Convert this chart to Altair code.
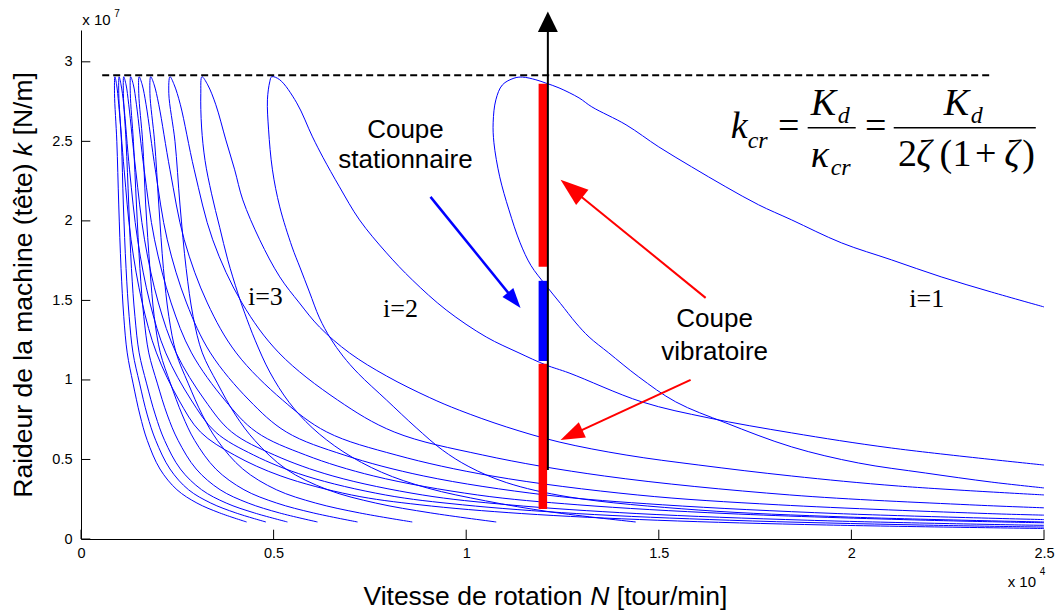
import altair as alt
import pandas as pd

# ---------------- data (x in 1e4 tour/min, y in 1e7 N/m) ----------------
x_ticks = [0, 0.5, 1, 1.5, 2, 2.5]
y_ticks = [0, 0.5, 1, 1.5, 2, 2.5, 3]

lobe1_x = [2.5, 2.363, 2.192, 2.018, 1.845, 1.674, 1.544, 1.448, 1.370, 1.319, 1.285, 1.245, 1.205, 1.168,
           1.140, 1.111, 1.087, 1.072, 1.070, 1.077, 1.094, 1.124, 1.146, 1.181, 1.207, 1.241, 1.293, 1.326,
           1.415, 1.500, 1.585, 1.674, 1.759, 1.845, 1.974, 2.104, 2.233, 2.363, 2.5]
lobe1_y = [0.321, 0.358, 0.415, 0.478, 0.579, 0.730, 0.862, 1.019, 1.170, 1.270, 1.358, 1.480, 1.600, 1.720,
           1.862, 2.069, 2.277, 2.491, 2.620, 2.761, 2.855, 2.897, 2.904, 2.887, 2.866, 2.836, 2.773, 2.717,
           2.604, 2.465, 2.340, 2.214, 2.101, 2.006, 1.862, 1.755, 1.648, 1.553, 1.459]

lobe2_x = [2.5, 1.992, 1.604, 1.267, 1.104, 1.007, 0.938, 0.870, 0.793, 0.720, 0.680, 0.648, 0.619, 0.593,
           0.569, 0.548, 0.516, 0.497, 0.487, 0.484, 0.490, 0.495, 0.516, 0.560, 0.601, 0.628, 0.671, 0.723,
           0.793, 0.860, 0.948, 1.052, 1.137, 1.207, 1.267, 1.456, 1.630, 1.845, 2.104, 2.5]
lobe2_y = [0.107, 0.138, 0.182, 0.264, 0.355, 0.455, 0.560, 0.700, 0.874, 1.040, 1.150, 1.260, 1.390, 1.553,
           1.704, 1.836, 2.088, 2.321, 2.572, 2.761, 2.874, 2.906, 2.887, 2.742, 2.528, 2.400, 2.214, 2.006,
           1.799, 1.629, 1.440, 1.270, 1.170, 1.094, 1.044, 0.862, 0.761, 0.667, 0.572, 0.465]

lobe3_x = [1.44, 1.22, 1.05, 0.90, 0.78, 0.68, 0.60, 0.54, 0.49, 0.452, 0.425, 0.407, 0.381, 0.360, 0.339,
           0.322, 0.313, 0.311, 0.314, 0.329, 0.350, 0.376, 0.399, 0.420, 0.464, 0.516, 0.567, 0.619, 0.697,
           0.793, 0.904, 0.982, 1.104, 1.241, 1.415, 1.604, 1.845, 2.122, 2.5]
lobe3_y = [0.107, 0.17, 0.24, 0.32, 0.42, 0.55, 0.70, 0.86, 1.05, 1.25, 1.42, 1.547, 1.755, 1.96, 2.17,
           2.38, 2.59, 2.80, 2.906, 2.855, 2.730, 2.509, 2.321, 2.132, 1.881, 1.648, 1.484, 1.333, 1.170,
           1.025, 0.890, 0.810, 0.705, 0.610, 0.528, 0.465, 0.396, 0.333, 0.277]

lobe4_x = [1.078, 0.908, 0.765, 0.640, 0.532, 0.451, 0.401, 0.354, 0.315, 0.291, 0.273, 0.257, 0.244, 0.228,
           0.231, 0.242, 0.258, 0.294, 0.342, 0.418, 0.514, 0.666, 0.813, 1.043, 1.359, 1.840, 2.306, 2.5]
lobe4_y = [0.107, 0.164, 0.226, 0.31, 0.44, 0.62, 0.78, 0.98, 1.17, 1.4, 1.7, 2.1, 2.5, 2.8,
           2.906, 2.855, 2.730, 2.321, 1.881, 1.484, 1.170, 0.874, 0.673, 0.528, 0.396, 0.277, 0.215, 0.196]

lobe5_x = [0.86, 0.723, 0.609, 0.507, 0.420, 0.354, 0.315, 0.278, 0.247, 0.228, 0.214, 0.202, 0.191, 0.179,
           0.181, 0.190, 0.202, 0.231, 0.268, 0.328, 0.403, 0.523, 0.638, 0.818, 1.067, 1.444, 1.810, 2.353, 2.5]
lobe5_y = [0.107, 0.164, 0.226, 0.31, 0.44, 0.62, 0.78, 0.98, 1.17, 1.4, 1.7, 2.1, 2.5, 2.8,
           2.906, 2.855, 2.730, 2.321, 1.881, 1.484, 1.170, 0.874, 0.673, 0.528, 0.396, 0.277, 0.215, 0.160, 0.150]

lobe6_x = [0.718, 0.603, 0.508, 0.423, 0.350, 0.295, 0.263, 0.232, 0.206, 0.190, 0.179, 0.168, 0.160, 0.150,
           0.151, 0.159, 0.169, 0.193, 0.224, 0.274, 0.336, 0.436, 0.533, 0.683, 0.890, 1.205, 1.510, 1.963, 2.5]
lobe6_y = [0.107, 0.164, 0.226, 0.31, 0.44, 0.62, 0.78, 0.98, 1.17, 1.4, 1.7, 2.1, 2.5, 2.8,
           2.906, 2.855, 2.730, 2.321, 1.881, 1.484, 1.170, 0.874, 0.673, 0.528, 0.396, 0.277, 0.215, 0.160, 0.122]

lobe7_x = [0.614, 0.515, 0.434, 0.361, 0.299, 0.252, 0.224, 0.198, 0.176, 0.163, 0.153, 0.144, 0.136, 0.128,
           0.129, 0.136, 0.144, 0.164, 0.191, 0.234, 0.287, 0.373, 0.455, 0.583, 0.760, 1.029, 1.290, 1.677,
           2.193, 2.5]
lobe7_y = [0.107, 0.164, 0.226, 0.31, 0.44, 0.62, 0.78, 0.98, 1.17, 1.4, 1.7, 2.1, 2.5, 2.8,
           2.906, 2.855, 2.730, 2.321, 1.881, 1.484, 1.170, 0.874, 0.673, 0.528, 0.396, 0.277, 0.215, 0.160,
           0.118, 0.102]

lobe8_x = [0.536, 0.450, 0.377, 0.313, 0.258, 0.217, 0.193, 0.170, 0.151, 0.140, 0.131, 0.124, 0.117, 0.110,
           0.111, 0.117, 0.124, 0.142, 0.165, 0.201, 0.247, 0.321, 0.391, 0.502, 0.654, 0.886, 1.110, 1.443,
           1.887, 2.442, 2.5]
lobe8_y = [0.107, 0.164, 0.226, 0.31, 0.44, 0.62, 0.78, 0.98, 1.17, 1.4, 1.7, 2.1, 2.5, 2.8,
           2.906, 2.855, 2.730, 2.321, 1.881, 1.484, 1.170, 0.874, 0.673, 0.528, 0.396, 0.277, 0.215, 0.160,
           0.118, 0.088, 0.086]

lobe9_x = [0.48, 0.402, 0.337, 0.279, 0.231, 0.194, 0.172, 0.152, 0.135, 0.125, 0.117, 0.110, 0.105, 0.098,
           0.099, 0.104, 0.111, 0.126, 0.147, 0.179, 0.220, 0.286, 0.349, 0.448, 0.584, 0.790, 0.990, 1.287,
           1.683, 2.178, 2.5]
lobe9_y = [0.107, 0.164, 0.226, 0.31, 0.44, 0.62, 0.78, 0.98, 1.17, 1.4, 1.7, 2.1, 2.5, 2.8,
           2.906, 2.855, 2.730, 2.321, 1.881, 1.484, 1.170, 0.874, 0.673, 0.528, 0.396, 0.277, 0.215, 0.160,
           0.118, 0.088, 0.075]

lobe10_x = [0.43, 0.36, 0.301, 0.249, 0.205, 0.172, 0.153, 0.135, 0.120, 0.111, 0.104, 0.098, 0.093, 0.087,
            0.088, 0.0925, 0.098, 0.112, 0.130, 0.159, 0.196, 0.254, 0.310, 0.398, 0.519, 0.702, 0.880, 1.144,
            1.496, 1.936, 2.5]
lobe10_y = [0.107, 0.164, 0.226, 0.31, 0.44, 0.62, 0.78, 0.98, 1.17, 1.4, 1.7, 2.1, 2.5, 2.8,
            2.906, 2.855, 2.730, 2.321, 1.881, 1.484, 1.170, 0.874, 0.673, 0.528, 0.396, 0.277, 0.215, 0.160,
            0.118, 0.088, 0.066]

k_limit = 2.916          # dashed critical stiffness line
k_limit_span = [0.055, 2.362]
cut_speed = 1.199        # vertical bars
axis_speed = 1.212       # black arrow
red_bars = [(2.862, 1.711), (1.101, 0.189)]
blue_bars = [(1.623, 1.119)]
black_line = (0.434, 3.19)

# ---------------- build tables ----------------
lobes = [lobe1_x, lobe1_y, lobe2_x, lobe2_y, lobe3_x, lobe3_y, lobe4_x, lobe4_y, lobe5_x, lobe5_y,
         lobe6_x, lobe6_y, lobe7_x, lobe7_y, lobe8_x, lobe8_y, lobe9_x, lobe9_y, lobe10_x, lobe10_y]
rows = []
for i in range(10):
    xs_, ys_ = lobes[2 * i], lobes[2 * i + 1]
    if len(xs_) != len(ys_):
        raise ValueError(f"lobe {i+1}: {len(xs_)} vs {len(ys_)}")
    for j, (a, b) in enumerate(zip(xs_, ys_)):
        rows.append({"lobe": i + 1, "idx": j, "N": a, "k": b})
df = pd.DataFrame(rows)

XS = alt.Scale(domain=[0, 2.5], nice=False, zero=False)
YS = alt.Scale(domain=[0, 3.2], nice=False, zero=False)
SANS = "Liberation Sans"
SERIF = "Liberation Serif"

AX = alt.Axis(values=x_ticks, format="~g", title=None, ticks=False, grid=False,
              labelPadding=7, labelFlush=False, labelOverlap=False)
AY = alt.Axis(values=y_ticks, format="~g", title=None, ticks=False, grid=False,
              labelPadding=9, labelFlush=False, labelOverlap=False)


def X(f):
    return alt.X(f"{f}:Q", scale=XS, axis=AX)


def Y(f):
    return alt.Y(f"{f}:Q", scale=YS, axis=AY)


lines = alt.Chart(df).mark_line(color="#0000ff", strokeWidth=1, interpolate="catmull-rom").encode(
    x=X("N"), y=Y("k"), detail="lobe:N", order="idx:Q",
)

# inward ticks
xt = pd.DataFrame({"x": x_ticks, "y0": [0] * len(x_ticks), "y1": [0.0585] * len(x_ticks)})
yt = pd.DataFrame({"y": y_ticks, "x0": [0] * len(y_ticks), "x1": [0.0242] * len(y_ticks)})
xtick_layer = alt.Chart(xt).mark_rule(color="black", strokeWidth=1).encode(x=X("x"), y=Y("y0"), y2="y1:Q")
ytick_layer = alt.Chart(yt).mark_rule(color="black", strokeWidth=1).encode(y=Y("y"), x=X("x0"), x2="x1:Q")

dash = alt.Chart(pd.DataFrame({"x": [k_limit_span[0]], "x2": [k_limit_span[1]], "y": [k_limit]})).mark_rule(
    color="black", strokeWidth=2, strokeDash=[7, 4]).encode(x=X("x"), x2="x2:Q", y=Y("y"))

bars_df = pd.DataFrame(
    [{"x": cut_speed, "y": a, "y2": b, "c": "#ff0000"} for a, b in red_bars]
    + [{"x": cut_speed, "y": a, "y2": b, "c": "#0000ff"} for a, b in blue_bars])
bars = alt.Chart(bars_df).mark_rule(strokeWidth=8.5, strokeCap="butt").encode(
    x=X("x"), y=Y("y"), y2="y2:Q", color=alt.Color("c:N", scale=None))

black = alt.Chart(pd.DataFrame({"x": [axis_speed], "y": [black_line[0]], "y2": [black_line[1]]})).mark_rule(
    color="black", strokeWidth=2).encode(x=X("x"), y=Y("y"), y2="y2:Q")

shafts_df = pd.DataFrame([
    {"x": 0.9073, "y": 2.151, "x2": 1.1164, "y2": 1.526, "c": "#0000ff", "w": 2.5},
    {"x": 1.6216, "y": 1.516, "x2": 1.2852, "y2": 2.179, "c": "#ff0000", "w": 2},
    {"x": 1.5826, "y": 1.000, "x2": 1.2873, "y2": 0.670, "c": "#ff0000", "w": 2},
])
shafts = alt.Chart(shafts_df).mark_rule(strokeCap="butt").encode(
    x=X("x"), y=Y("y"), x2="x2:Q", y2="y2:Q", color=alt.Color("c:N", scale=None),
    size=alt.Size("w:Q", scale=None))

heads_df = pd.DataFrame([
    {"x": 1.1247, "y": 1.501, "a": 140.7, "s": 400, "c": "#0000ff"},
    {"x": 1.2732, "y": 2.203, "a": 309.1, "s": 784, "c": "#ff0000"},
    {"x": 1.2732, "y": 0.654, "a": 245.2, "s": 576, "c": "#ff0000"},
])
heads = alt.Chart(heads_df).mark_point(shape="M0,-1L0.7,1L-0.7,1Z", filled=True, opacity=1, strokeWidth=0).encode(
    x=X("x"), y=Y("y"), angle=alt.Angle("a:Q", scale=None), size=alt.Size("s:Q", scale=None),
    color=alt.Color("c:N", scale=None))
black_head = alt.Chart(pd.DataFrame({"x": [axis_speed], "y": [3.252]})).mark_point(
    shape="M0,-1L0.97,1L-0.97,1Z", filled=True, opacity=1, strokeWidth=0, color="black", size=424).encode(
    x=X("x"), y=Y("y"))


def texts(items, **kw):
    d = pd.DataFrame(items, columns=["t", "x", "y"])
    kw.setdefault("color", "black")
    kw.setdefault("baseline", "alphabetic")
    return alt.Chart(d).mark_text(**kw).encode(x=X("x"), y=Y("y"), text="t:N")


annot = texts([("Coupe", 0.8423, 2.520), ("stationnaire", 0.8423, 2.334),
               ("Coupe", 1.6449, 1.330), ("vibratoire", 1.6449, 1.127)],
              font=SANS, fontSize=26, align="center")
lobe_labels = texts([("i=3", 0.4787, 1.473), ("i=2", 0.8294, 1.397), ("i=1", 2.1956, 1.460)],
                    font=SERIF, fontSize=26, align="center")

# formula k_cr = K_d / kappa_cr = K_d / (2 zeta (1 + zeta))
f_ital_big = texts([("k", 1.6865, 2.522), ("K", 1.8943, 2.667), ("κ", 1.8943, 2.340), ("K", 2.2397, 2.667),
                    ("ζ", 2.1681, 2.346), ("ζ", 2.3967, 2.346)],
                   font=SERIF, fontSize=38, fontStyle="italic", align="left")
f_ital_small = texts([("cr", 1.7306, 2.459), ("d", 1.9644, 2.617), ("cr", 1.9462, 2.290), ("d", 2.3099, 2.617)],
                     font=SERIF, fontSize=24, fontStyle="italic", align="left")
f_up = texts([("2", 2.1213, 2.346), ("(", 2.2290, 2.346), ("1", 2.2625, 2.346), ("+", 2.3210, 2.346),
              (")", 2.4434, 2.346)],
             font=SERIF, fontSize=38, align="left")
f_eq = texts([("=", 1.8371, 2.522), ("=", 2.0631, 2.522)], font=SERIF, fontSize=38, align="center")
f_bars = alt.Chart(pd.DataFrame({"x": [1.8865, 2.1099], "x2": [2.0112, 2.4787], "y": [2.585, 2.585]})).mark_rule(
    color="black", strokeWidth=1.5).encode(x=X("x"), x2="x2:Q", y=Y("y"))

# axis titles and exponents
ytitle_a = texts([("Raideur de la machine (tête)", -0.1265, 0.2596), ("[N/m]", -0.1265, 2.5375)],
                 font=SANS, fontSize=26.5, angle=270, align="left")
ytitle_b = texts([("k", -0.1265, 2.407)], font=SANS, fontSize=26.5, angle=270, align="left", fontStyle="italic")
xtitle_a = texts([("Vitesse de rotation", 0.7332, -0.413), ("[tour/min]", 1.3911, -0.413)],
                 font=SANS, fontSize=26.5, align="left")
xtitle_b = texts([("N", 1.3223, -0.413)], font=SANS, fontSize=26.5, align="left", fontStyle="italic")
exp_base = texts([("x 10", 0.0034, 3.2326), ("x 10", 2.4057, -0.2998)], font=SANS, fontSize=15, align="left")
exp_pow = texts([("7", 0.0865, 3.283), ("4", 2.4891, -0.2244)], font=SANS, fontSize=10, align="left")

chart = alt.layer(
    lines, xtick_layer, ytick_layer, dash, bars, black, black_head, shafts, heads,
    annot, lobe_labels, f_ital_big, f_ital_small, f_up, f_eq, f_bars,
    ytitle_a, ytitle_b, xtitle_a, xtitle_b, exp_base, exp_pow,
).properties(
    width=963, height=509,
    padding={"left": 73, "top": 22, "right": 11, "bottom": 72},
    autosize=alt.AutoSizeParams(type="none"),
    background="white",
).configure_view(stroke=None).configure_axis(
    labelFont=SANS, labelFontSize=14.5, labelColor="black",
    domainColor="black", domainWidth=1, grid=False, ticks=False,
)

chart.save("out.html", embed_options={"renderer": "svg", "actions": False})
